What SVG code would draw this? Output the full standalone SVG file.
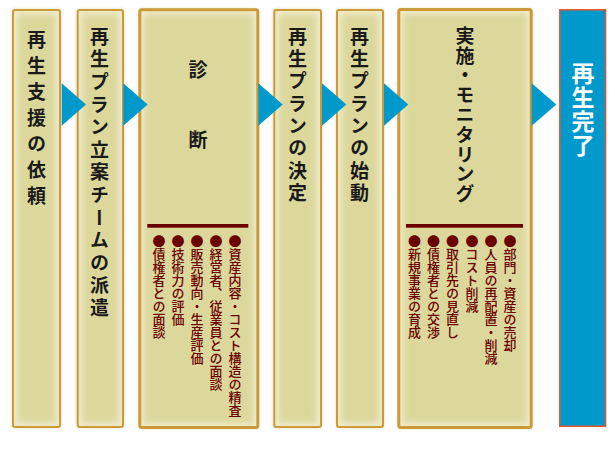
<svg xmlns="http://www.w3.org/2000/svg" width="615" height="450" viewBox="0 0 615 450">
<defs>
<filter id="glow" x="-10%" y="-5%" width="120%" height="110%">
<feMorphology in="SourceAlpha" operator="erode" radius="4" result="e"/>
<feGaussianBlur in="e" stdDeviation="3" result="b"/>
<feFlood flood-color="#DCD89C"/>
<feComposite in2="b" operator="in" result="inner"/>
<feFlood flood-color="#F0ECCD"/>
<feComposite in2="SourceAlpha" operator="in" result="outer"/>
<feMerge><feMergeNode in="outer"/><feMergeNode in="inner"/></feMerge>
</filter>
<filter id="shadow" x="-20%" y="-5%" width="140%" height="110%">
<feGaussianBlur stdDeviation="1.5"/>
</filter>
</defs>
<style>
.bg{fill:#DCD89C;filter:url(#glow)}
.bd{fill:none;stroke:#CC9A36;stroke-width:2}
.bd3{fill:none;stroke:#CC9A36;stroke-width:3}
.sh{fill:none;stroke:#B08A40;stroke-width:2;opacity:0.35;filter:url(#shadow)}
.t{font-family:"Noto Sans CJK JP","Noto Sans CJK SC",sans-serif;font-weight:bold;font-size:19px;fill:#1A1A1A;writing-mode:vertical-rl}
.b{font-family:"Noto Sans CJK JP","Noto Sans CJK SC",sans-serif;font-weight:500;font-size:13px;fill:#6B0000;writing-mode:vertical-rl}
.w{font-family:"Noto Sans CJK JP","Noto Sans CJK SC",sans-serif;font-weight:bold;font-size:23px;fill:#FFFFFF;writing-mode:vertical-rl;letter-spacing:1px}
.ln{fill:#6B0000}
.ar{fill:#0099CC}
</style>
<rect width="615" height="450" fill="#FFFFFF"/>
<g id="node1">
<rect class="sh" x="13" y="10" width="47" height="417" rx="2"/>
<rect class="bg" x="13" y="10" width="47" height="417" rx="2"/>
<rect class="bd" x="13" y="10" width="47" height="417" rx="2"/>
<text class="t" x="36.5" y="30" style="letter-spacing:7px">再生支援の依頼</text>
</g>
<g id="node2">
<rect class="sh" x="77.7" y="10" width="45.3" height="417" rx="2"/>
<rect class="bg" x="77.7" y="10" width="45.3" height="417" rx="2"/>
<rect class="bd" x="77.7" y="10" width="45.3" height="417" rx="2"/>
<text class="t" x="99.5" y="27" style="letter-spacing:3.6px">再生プラン立案チームの派遣</text>
</g>
<g id="node3">
<rect class="sh" x="139.8" y="9.8" width="118" height="417.7" rx="2"/>
<rect class="bg" x="139.8" y="9.8" width="118" height="417.7" rx="2"/>
<rect class="bd3" x="139.8" y="9.8" width="118" height="417.7" rx="2"/>
<text class="t" x="198" y="60" style="letter-spacing:51px">診断</text>
<rect class="ln" x="147.3" y="224" width="101" height="3.7"/>
<text class="b" x="235" y="235">●資産内容・コスト構造の精査</text>
<text class="b" x="216" y="235">●経営者、従業員との面談</text>
<text class="b" x="197" y="235">●販売動向・生産評価</text>
<text class="b" x="178" y="235">●技術力の評価</text>
<text class="b" x="159" y="235">●債権者との面談</text>
</g>
<g id="node4">
<rect class="sh" x="274.3" y="10" width="46.7" height="417" rx="2"/>
<rect class="bg" x="274.3" y="10" width="46.7" height="417" rx="2"/>
<rect class="bd" x="274.3" y="10" width="46.7" height="417" rx="2"/>
<text class="t" x="297.5" y="27" style="letter-spacing:3.3px">再生プランの決定</text>
</g>
<g id="node5">
<rect class="sh" x="337" y="10" width="46" height="417" rx="2"/>
<rect class="bg" x="337" y="10" width="46" height="417" rx="2"/>
<rect class="bd" x="337" y="10" width="46" height="417" rx="2"/>
<text class="t" x="359.5" y="27" style="letter-spacing:3.3px">再生プランの始動</text>
</g>
<g id="node6">
<rect class="sh" x="398.8" y="9.5" width="132.4" height="418" rx="2"/>
<rect class="bg" x="398.8" y="9.5" width="132.4" height="418" rx="2"/>
<rect class="bd3" x="398.8" y="9.5" width="132.4" height="418" rx="2"/>
<text class="t" x="465" y="26" style="letter-spacing:0.8px">実施・モニタリング</text>
<rect class="ln" x="406" y="224" width="117" height="3.7"/>
<text class="b" x="510" y="235">●部門・資産の売却</text>
<text class="b" x="491" y="235">●人員の再配置・削減</text>
<text class="b" x="472" y="235">●コスト削減</text>
<text class="b" x="452.5" y="235">●取引先の見直し</text>
<text class="b" x="433.5" y="235">●債権者との交渉</text>
<text class="b" x="414.5" y="235">●新規事業の育成</text>
</g>
<g id="node7">
<rect x="559.8" y="9.8" width="45.8" height="416.5" fill="#0099CC" stroke="#E8552A" stroke-width="1.5"/>
<text class="w" x="583" y="62">再生完了</text>
</g>
<g id="connectors">
<polygon class="ar" points="61.7,83.3 86,104.5 61.7,125.7"/>
<polygon class="ar" points="123.3,83.3 147.7,104.5 123.3,125.7"/>
<polygon class="ar" points="258.3,83.3 282.7,104.5 258.3,125.7"/>
<polygon class="ar" points="322,83.3 346.3,104.5 322,125.7"/>
<polygon class="ar" points="384,83.3 408.3,104.5 384,125.7"/>
<polygon class="ar" points="531.7,83.3 556.3,104.5 531.7,125.7"/>
</g>
</svg>
